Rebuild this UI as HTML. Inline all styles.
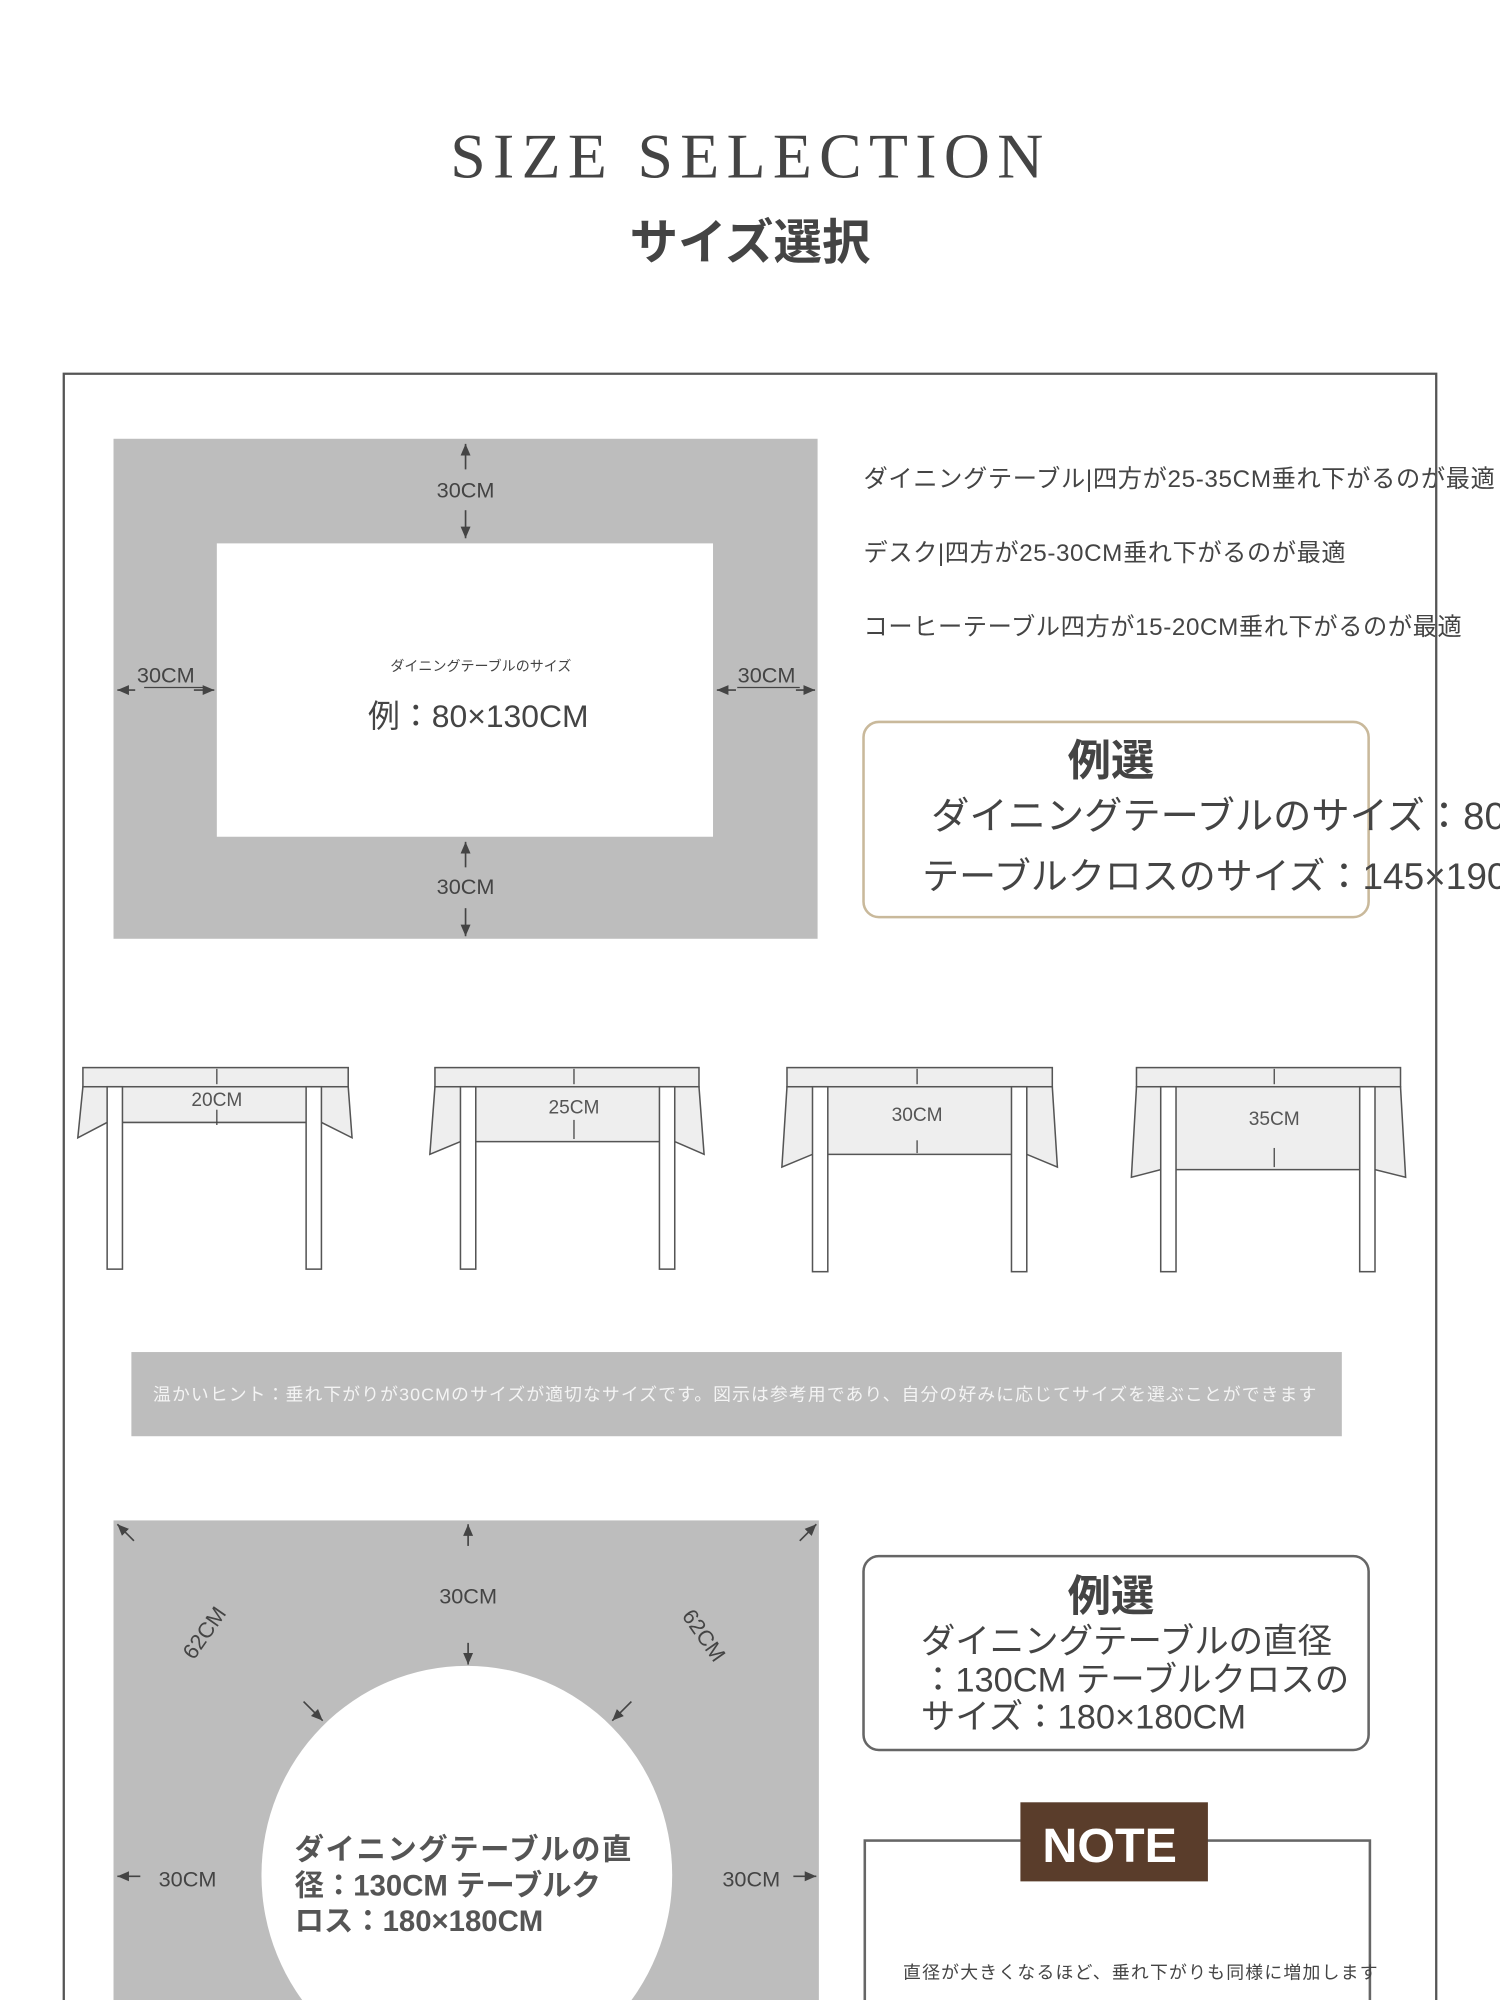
<!DOCTYPE html>
<html><head><meta charset="utf-8"><style>
html,body{margin:0;padding:0;background:#fff;width:1500px;height:2000px;overflow:hidden}
svg{display:block}
text{font-family:"Liberation Sans","Noto Sans CJK JP",sans-serif;fill:#444}
</style></head><body>
<svg width="1500" height="2000" viewBox="0 0 1176 1568" xmlns="http://www.w3.org/2000/svg">
<defs><marker id="a" markerWidth="8" markerHeight="8" refX="7" refY="4" orient="auto"><path d="M0,1 L7,4 L0,7 Z" fill="#444"/></marker></defs>
<text x="353" y="139" font-size="50" textLength="465" lengthAdjust="spacing" style="font-family:'Liberation Serif',serif" fill="#3a3a3a">SIZE SELECTION</text>
<text x="588" y="203" text-anchor="middle" font-size="38" font-weight="bold" fill="#3d3d3d">サイズ選択</text>

<!-- rect diagram 1 -->
<rect x="89" y="344" width="552" height="392" fill="#bdbdbd"/>
<rect x="170" y="426" width="389" height="230" fill="#fff"/>
<g stroke="#444" stroke-width="1.3" fill="none">
<line x1="365" y1="368" x2="365" y2="348" marker-end="url(#a)"/>
<line x1="365" y1="400" x2="365" y2="422" marker-end="url(#a)"/>
<line x1="365" y1="680" x2="365" y2="660" marker-end="url(#a)"/>
<line x1="365" y1="712" x2="365" y2="734" marker-end="url(#a)"/>
<line x1="106" y1="541" x2="92" y2="541" marker-end="url(#a)"/>
<line x1="152" y1="541" x2="168" y2="541" marker-end="url(#a)"/>
<line x1="113" y1="539" x2="162" y2="539" stroke-width="1"/>
<line x1="577" y1="541" x2="562" y2="541" marker-end="url(#a)"/>
<line x1="624" y1="541" x2="639" y2="541" marker-end="url(#a)"/>
<line x1="578" y1="539" x2="627" y2="539" stroke-width="1"/>
</g>
<text x="365" y="390" text-anchor="middle" font-size="17">30CM</text>
<text x="365" y="701" text-anchor="middle" font-size="17">30CM</text>
<text x="130" y="535" text-anchor="middle" font-size="17">30CM</text>
<text x="601" y="535" text-anchor="middle" font-size="17">30CM</text>
<text x="377" y="526" text-anchor="middle" font-size="11">ダイニングテーブルのサイズ</text>
<text x="375" y="570" text-anchor="middle" font-size="25">例：80×130CM</text>

<text x="677" y="382" font-size="19" textLength="495">ダイニングテーブル|四方が25-35CM垂れ下がるのが最適</text>
<text x="677" y="440" font-size="19" textLength="378">デスク|四方が25-30CM垂れ下がるのが最適</text>
<text x="677" y="498" font-size="19" textLength="469">コーヒーテーブル四方が15-20CM垂れ下がるのが最適</text>

<rect x="677" y="566" width="396" height="153" rx="12" fill="#fff" stroke="#c9b99b" stroke-width="2"/>
<text x="871" y="608" text-anchor="middle" font-size="34" font-weight="bold">例選</text>
<text x="730" y="650" font-size="30">ダイニングテーブルのサイズ：80×130CM</text>
<text x="723" y="697" font-size="29">テーブルクロスのサイズ：145×190CM</text>

<!-- tables -->
<g stroke="#555" stroke-width="1.2" fill="#fff">
<g>
<path d="M65,852 L61,892 L84,880 L252,880 L276,892 L273,852 Z" fill="#eee"/>
<rect x="65" y="837" width="208" height="15" fill="#eee"/>
<rect x="84" y="852" width="12" height="143" fill="#fff"/><rect x="240" y="852" width="12" height="143" fill="#fff"/>
</g>
<g>
<path d="M341,852 L337,905 L361,895 L529,895 L552,905 L548,852 Z" fill="#eee"/>
<rect x="341" y="837" width="207" height="15" fill="#eee"/>
<rect x="361" y="852" width="12" height="143" fill="#fff"/><rect x="517" y="852" width="12" height="143" fill="#fff"/>
</g>
<g>
<path d="M617,852 L613,915 L637,905 L805,905 L829,915 L825,852 Z" fill="#eee"/>
<rect x="617" y="837" width="208" height="15" fill="#eee"/>
<rect x="637" y="852" width="12" height="145" fill="#fff"/><rect x="793" y="852" width="12" height="145" fill="#fff"/>
</g>
<g>
<path d="M891,852 L887,923 L910,917 L1078,917 L1102,923 L1098,852 Z" fill="#eee"/>
<rect x="891" y="837" width="207" height="15" fill="#eee"/>
<rect x="910" y="852" width="12" height="145" fill="#fff"/><rect x="1066" y="852" width="12" height="145" fill="#fff"/>
</g>
</g>
<g stroke="#444" stroke-width="1">
<line x1="170" y1="838" x2="170" y2="850"/><line x1="170" y1="870" x2="170" y2="882"/>
<line x1="450" y1="838" x2="450" y2="850"/><line x1="450" y1="878" x2="450" y2="893"/>
<line x1="719" y1="838" x2="719" y2="850"/><line x1="719" y1="894" x2="719" y2="904"/>
<line x1="999" y1="838" x2="999" y2="850"/><line x1="999" y1="900" x2="999" y2="915"/>
</g>
<text x="170" y="867" text-anchor="middle" font-size="15" fill="#555" style="fill:#555">20CM</text>
<text x="450" y="873" text-anchor="middle" font-size="15" style="fill:#555">25CM</text>
<text x="719" y="879" text-anchor="middle" font-size="15" style="fill:#555">30CM</text>
<text x="999" y="882" text-anchor="middle" font-size="15" style="fill:#555">35CM</text>

<rect x="103" y="1060" width="949" height="66" fill="#bdbdbd"/>
<text x="120" y="1098" font-size="14" textLength="912" style="fill:#f4f4f4">温かいヒント：垂れ下がりが30CMのサイズが適切なサイズです。図示は参考用であり、自分の好みに応じてサイズを選ぶことができます</text>

<!-- round diagram -->
<rect x="89" y="1192" width="553" height="400" fill="#bdbdbd"/>
<ellipse cx="366" cy="1470" rx="161" ry="164" fill="#fff"/>
<g stroke="#444" stroke-width="1.3" fill="none">
<line x1="367" y1="1212" x2="367" y2="1195" marker-end="url(#a)"/>
<line x1="367" y1="1288" x2="367" y2="1305" marker-end="url(#a)"/>
<line x1="105" y1="1208" x2="92" y2="1195" marker-end="url(#a)"/>
<line x1="627" y1="1208" x2="640" y2="1195" marker-end="url(#a)"/>
<line x1="238" y1="1334" x2="253" y2="1349" marker-end="url(#a)"/>
<line x1="495" y1="1334" x2="480" y2="1349" marker-end="url(#a)"/>
<line x1="110" y1="1471" x2="92" y2="1471" marker-end="url(#a)"/>
<line x1="622" y1="1471" x2="640" y2="1471" marker-end="url(#a)"/>
</g>
<text x="367" y="1257" text-anchor="middle" font-size="17">30CM</text>
<text x="147" y="1479" text-anchor="middle" font-size="17">30CM</text>
<text x="589" y="1479" text-anchor="middle" font-size="17">30CM</text>
<text x="160" y="1286" text-anchor="middle" font-size="17" transform="rotate(-55 160 1280)">62CM</text>
<text x="552" y="1288" text-anchor="middle" font-size="17" transform="rotate(55 552 1282)">62CM</text>
<text font-size="23" font-weight="bold" style="fill:#555">
<tspan x="231" y="1458" textLength="264">ダイニングテーブルの直</tspan>
<tspan x="231" y="1486">径：130CM テーブルク</tspan>
<tspan x="231" y="1514">ロス：180×180CM</tspan></text>

<rect x="677" y="1220" width="396" height="152" rx="12" fill="#fff" stroke="#666" stroke-width="2"/>
<text x="871" y="1263" text-anchor="middle" font-size="34" font-weight="bold">例選</text>
<text font-size="27"><tspan x="722" y="1296">ダイニングテーブルの直径</tspan><tspan x="722" y="1326">：130CM テーブルクロスの</tspan><tspan x="722" y="1355">サイズ：180×180CM</tspan></text>

<rect x="678" y="1443" width="396" height="140" fill="#fff" stroke="#666" stroke-width="2"/>
<rect x="800" y="1413" width="147" height="62" fill="#5a3d2b"/>
<text x="870" y="1460" text-anchor="middle" font-size="38" font-weight="bold" style="fill:#fff">NOTE</text>
<text x="708" y="1551" font-size="14" textLength="372">直径が大きくなるほど、垂れ下がりも同様に増加します</text>

<!-- frame -->
<path d="M50,1570 L50,293 L1126,293 L1126,1570" fill="none" stroke="#555" stroke-width="1.8"/>
</svg>
</body></html>
